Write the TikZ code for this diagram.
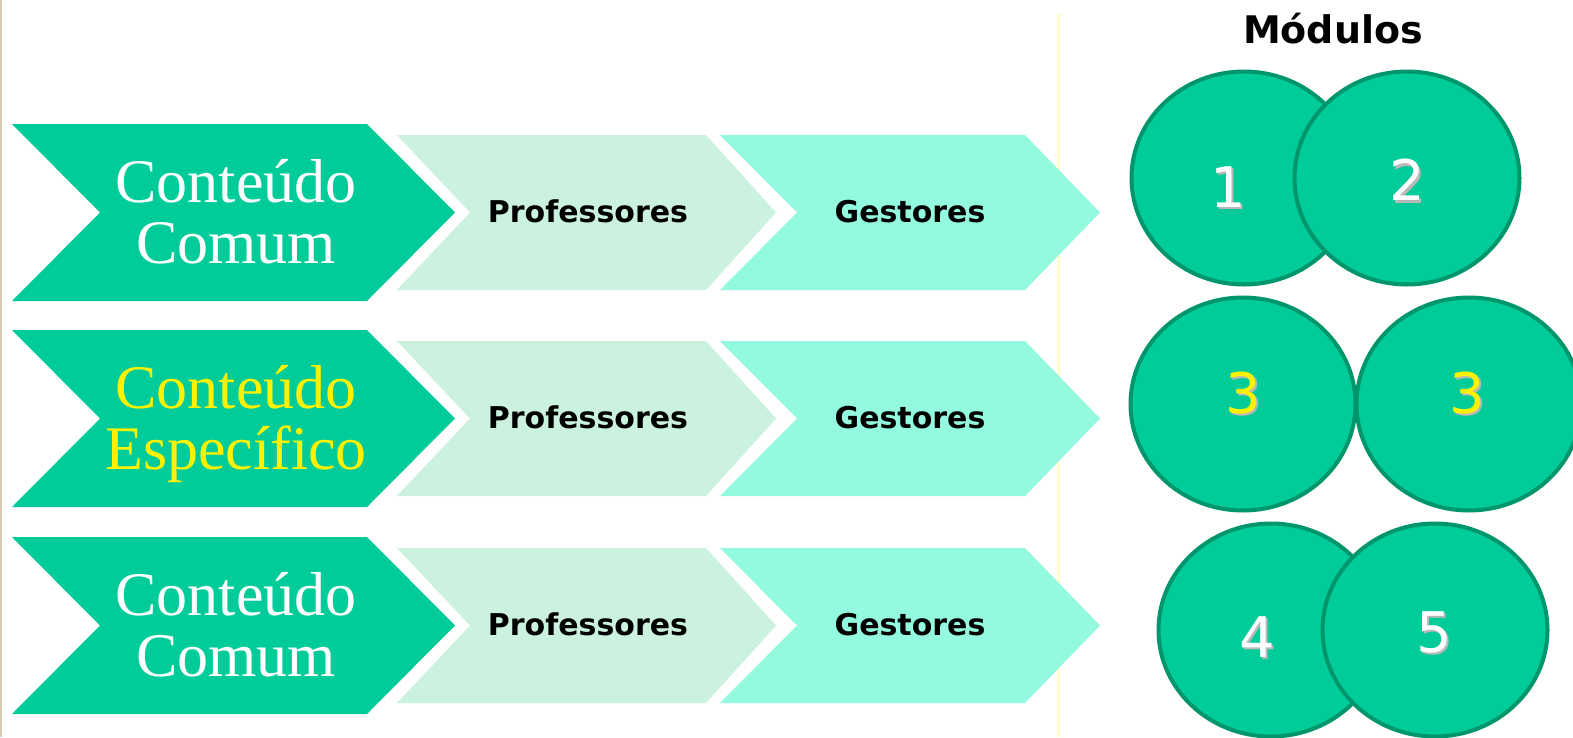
\documentclass[tikz,border=0pt]{standalone}
\usepackage{fontspec}
\setmainfont{Liberation Serif}
\newfontfamily\dejavu{DejaVu Sans}
\usetikzlibrary{shapes.geometric}
\definecolor{mainGreen}{HTML}{00CC99}
\definecolor{circleEdge}{HTML}{00966C}
\definecolor{profFill}{HTML}{CBF2DF}
\definecolor{gestFill}{HTML}{93FAE0}
\definecolor{vlineCol}{HTML}{FFFFCC}
\definecolor{edgeTan}{HTML}{D8CDB2}
\definecolor{shadowGrey}{HTML}{B8B8B8}
\tikzset{
  bigchev/.style={fill=mainGreen},
  profchev/.style={fill=profFill},
  gestchev/.style={fill=gestFill},
  serifbig/.style={text=white, font=\fontsize{62}{61}\selectfont, inner sep=0pt, anchor=base},
  labelbold/.style={font=\dejavu\bfseries\fontsize{30}{30}\selectfont, anchor=base, inner sep=0pt},
  modcircle/.style={ellipse, draw=circleEdge, line width=4pt, fill=mainGreen, minimum width=225pt, minimum height=213pt, inner sep=0pt},
  numtext/.style={font=\dejavu\fontsize{56}{56}\selectfont, inner sep=0pt, anchor=center},
  numshadow/.style={numtext, text=shadowGrey},
}
\begin{document}
\begin{tikzpicture}[x=1pt,y=-1pt]
\useasboundingbox (0,0) rectangle (1573,737);
\fill[white] (0,0) rectangle (1573,737);
% edge lines
\draw[edgeTan, line width=2pt] (1,0) -- (1,737);
\draw[vlineCol, line width=3pt] (1058,13) -- (1058,737);
% chevrons
\foreach \t [count=\i] in {124,330,537} {
  \path[bigchev] (12,\t) -- (367,\t) -- (455,\t+88.5) -- (367,\t+177) -- (12,\t+177) -- (100,\t+88.5) -- cycle;
  \path[profchev] (397,\t+11) -- (706,\t+11) -- (776,\t+88.5) -- (706,\t+166) -- (397,\t+166) -- (470,\t+88.5) -- cycle;
  \path[gestchev] (720,\t+11) -- (1025,\t+11) -- (1100,\t+88.5) -- (1025,\t+166) -- (720,\t+166) -- (797,\t+88.5) -- cycle;
  \node[labelbold] (prof\i) at (588,\t+98) {Professores};
  \node[labelbold] (gest\i) at (910,\t+98) {Gestores};
}
% big chevron texts
\node[serifbig] (c1a) at (236,202) {Conteúdo};
\node[serifbig] (c1b) at (236,263) {Comum};
\node[serifbig, text=yellow] (c2a) at (236,408) {Conteúdo};
\node[serifbig, text=yellow] (c2b) at (236,469) {Específico};
\node[serifbig] (c3a) at (236,615) {Conteúdo};
\node[serifbig] (c3b) at (236,676) {Comum};
% modules
\node[font=\dejavu\bfseries\fontsize{38}{38}\selectfont, anchor=base, inner sep=0pt] (title) at (1333,43) {Módulos};
\node[modcircle] (m1) at (1244,178) {};
\node[modcircle] (m2) at (1407,178) {};
\node[modcircle] (m3a) at (1243,404) {};
\node[modcircle] (m3b) at (1469,404) {};
\node[modcircle] (m4) at (1271,630) {};
\node[modcircle] (m5) at (1435,630) {};
% numbers with shadow
\foreach \n/\x/\y/\c in {1/1228/187/white, 2/1407/180/white, 3/1243/393/yellow, 3/1467/393/yellow, 4/1257/637/white, 5/1434/632/white} {
  \node[numshadow] (s\n\x) at (\x+2.5,\y+2.5) {\n};
  \node[numtext, text=\c] (n\n\x) at (\x,\y) {\n};
}
\end{tikzpicture}
\end{document}
